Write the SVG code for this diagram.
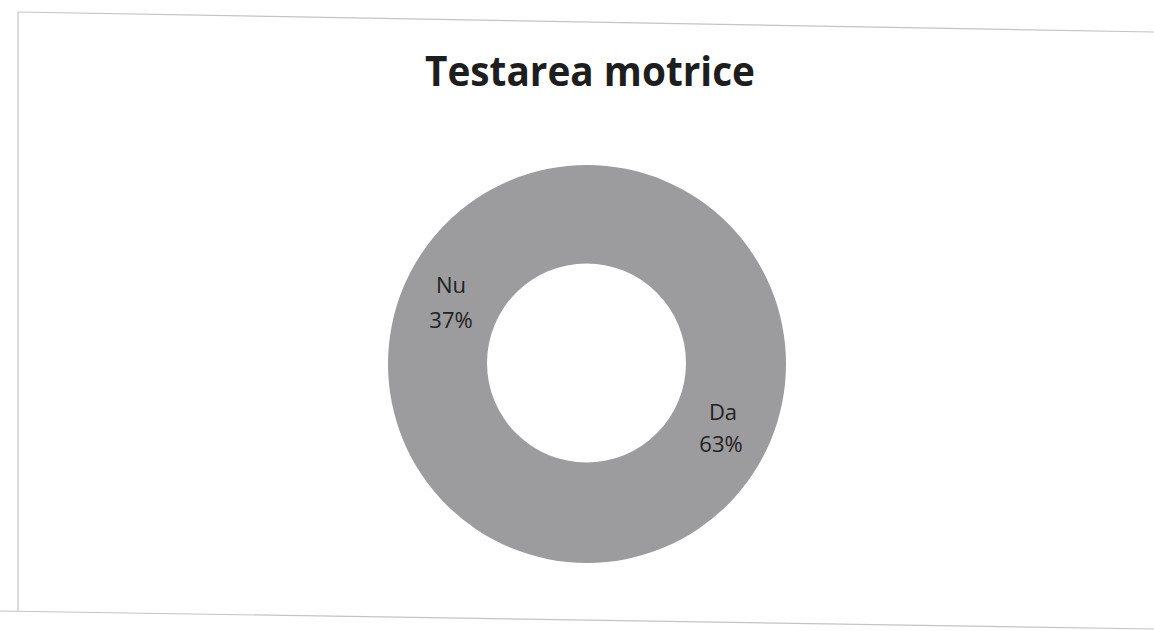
<svg xmlns="http://www.w3.org/2000/svg" width="1154" height="631" viewBox="0 0 1154 631">
  <style>
    .frame { fill: none; stroke: #c4c4c4; stroke-width: 1.2; }
    .lbl { font-family: "Open Sans", "Noto Sans", "Liberation Sans", sans-serif; font-size: 22px; fill: #222222; text-anchor: middle; }
    .title { font-family: "Open Sans", "Noto Sans", "Liberation Sans", sans-serif; font-size: 41px; font-weight: bold; fill: #1e1e1e; text-anchor: middle; }
  </style>
  <rect width="1154" height="631" fill="#ffffff"/>
  <g id="frame">
    <line class="frame" x1="18" y1="12" x2="1154" y2="32"/>
    <line class="frame" x1="18" y1="12" x2="18" y2="611"/>
    <line class="frame" x1="0" y1="611" x2="1154" y2="629"/>
  </g>
  <g id="title">
    <text class="title" x="590" y="86" textLength="330" lengthAdjust="spacingAndGlyphs">Testarea motrice</text>
  </g>
  <g id="donut">
    <path d="M 388 364 A 199 199 0 1 0 786 364 A 199 199 0 1 0 388 364 Z M 487 363 A 99.5 99.5 0 1 1 686 363 A 99.5 99.5 0 1 1 487 363 Z" fill="#9c9b9e" fill-rule="evenodd"/>
  </g>
  <g id="label-nu">
    <text class="lbl" x="451" y="293">Nu</text>
    <text class="lbl" x="451" y="328">37%</text>
  </g>
  <g id="label-da">
    <text class="lbl" x="723" y="420">Da</text>
    <text class="lbl" x="721" y="452">63%</text>
  </g>
</svg>
